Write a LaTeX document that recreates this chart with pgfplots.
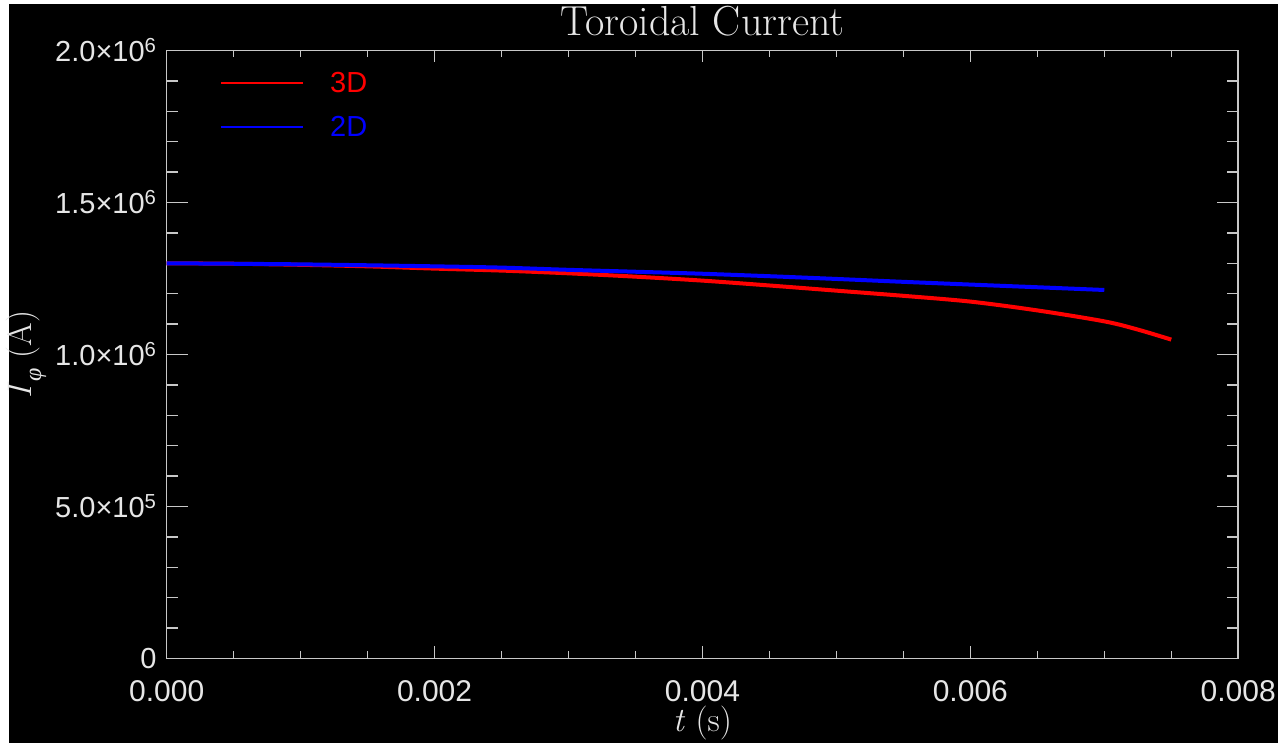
\documentclass[border=0pt]{standalone}
\usepackage{pgfplots}
\pgfplotsset{compat=1.18}
\usepackage{fontspec}
\newfontfamily\idlsans{Liberation Sans}
\newfontfamily\greekfont{Liberation Serif}
\definecolor{axgray}{RGB}{200,200,200}
\definecolor{txt}{RGB}{230,230,230}
\pgfplotstableread{
t I
0 1.300e6
0.0005 1.2985e6
0.001 1.295e6
0.0015 1.290e6
0.002 1.2825e6
0.0025 1.276e6
0.003 1.267e6
0.0035 1.256e6
0.004 1.243e6
0.0045 1.227e6
0.005 1.210e6
0.0055 1.193e6
0.006 1.174e6
0.0065 1.145e6
0.007 1.109e6
0.00725 1.082e6
0.0075 1.049e6
}\threeD
\pgfplotstableread{
t I
0 1.300e6
0.0005 1.2985e6
0.001 1.2965e6
0.0015 1.2935e6
0.002 1.2900e6
0.0025 1.2858e6
0.003 1.2785e6
0.0035 1.2722e6
0.004 1.2656e6
0.0045 1.2575e6
0.005 1.2485e6
0.0055 1.2390e6
0.006 1.2300e6
0.0065 1.2212e6
0.007 1.2122e6
}\twoD
\begin{document}
\begin{tikzpicture}[x=1pt,y=1pt]
\useasboundingbox (0,0) rectangle (1278,743);
\fill[white] (0,0) rectangle (1278,743);
\fill[black] (9,0) rectangle (1278,739);
\begin{axis}[
  at={(166.7pt,84.5pt)}, anchor=south west,
  scale only axis, width=1071.6pt, height=608pt,
  xmin=0, xmax=0.008, ymin=0, ymax=2e6,
  scaled ticks=false,
  axis line style={axgray, line width=1.5pt},
  tick align=inside,
  every tick/.style={axgray, line width=1.5pt},
  xtick={0,0.002,0.004,0.006,0.008},
  xticklabels={0.000,0.002,0.004,0.006,0.008},
  minor x tick num=3,
  ytick={0,5e5,1e6,1.5e6,2e6},
  yticklabels={0,5.0×10\textsuperscript{5},1.0×10\textsuperscript{6},1.5×10\textsuperscript{6},2.0×10\textsuperscript{6}},
  minor y tick num=4,
  major x tick style={/pgfplots/major tick length=12pt},
  minor x tick style={/pgfplots/minor tick length=7pt},
  major y tick style={/pgfplots/major tick length=21pt},
  minor y tick style={/pgfplots/minor tick length=11pt},
  xticklabel style={font=\idlsans\fontsize{30}{32}\selectfont, text=txt, inner sep=0pt, anchor=north, yshift=-21.5pt},
  yticklabel style={font=\idlsans\fontsize{29}{31}\selectfont, text=txt, inner sep=0pt, anchor=east, xshift=-10pt},
  title={Toroidal Current},
  title style={font=\fontsize{42}{44}\selectfont, text=txt, at={(0.5,1)}, anchor=base, yshift=9pt},
  xlabel={\textit{t} (s)},
  xlabel style={font=\fontsize{34}{36}\selectfont, text=txt, at={(0.5,0)}, anchor=base, yshift=-73pt},
  ylabel={\textit{I}\raisebox{-0.3em}{\greekfont\itshape\fontsize{24}{26}\selectfont φ} (A)},
  ylabel style={font=\fontsize{34}{36}\selectfont, text=txt, at={(-0.1266,0.5)}, anchor=base, rotate=0},
  legend style={draw=none, fill=none, inner sep=0pt, at={(0.0497,0.9643)}, anchor=north west,
    nodes={inner sep=0pt, font=\idlsans\fontsize{29}{31}\selectfont}, column sep=26pt, row sep=22pt},
  legend image code/.code={\draw[#1, line width=2pt] (0pt,0pt) -- (82pt,0pt);},
]
\addplot[red, line width=4pt, smooth] table[x=t, y=I] {\threeD};
\addlegendentry{\textcolor{red}{3D}}
\addplot[blue, line width=4pt, smooth] table[x=t, y=I] {\twoD};
\addlegendentry{\textcolor{blue}{2D}}
\end{axis}
\end{tikzpicture}
\end{document}
